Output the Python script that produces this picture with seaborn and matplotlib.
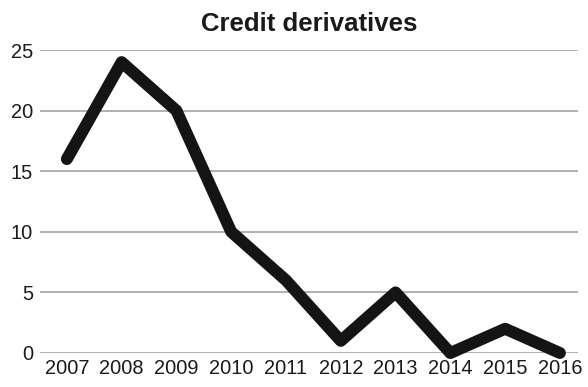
import matplotlib
matplotlib.use("Agg")
import matplotlib.pyplot as plt
import seaborn as sns
import pandas as pd

years = ["2007", "2008", "2009", "2010", "2011", "2012", "2013", "2014", "2015", "2016"]
values = [16, 24, 20, 10, 6, 1, 5, 0, 2, 0]
y_ticks = [0, 5, 10, 15, 20, 25]
title = "Credit derivatives"

sns.set_theme(style="white")
plt.rcParams["font.family"] = ["Liberation Sans", "DejaVu Sans"]

df = pd.DataFrame({"pos": range(len(years)), "value": values})

fig = plt.figure(figsize=(5.88, 3.87), dpi=100)
ax = fig.add_axes([40 / 588, 1 - 353 / 387, 538 / 588, 303 / 387])

for yt in y_ticks:
    ax.axhline(yt, color="#aaaaaa", lw=1.3, zorder=1)

sns.lineplot(data=df, x="pos", y="value", ax=ax, color="#141414", lw=8.6,
             solid_capstyle="round", solid_joinstyle="round", zorder=3, clip_on=False)

ax.set_xlim(-0.49, 9.33)
ax.set_ylim(0, 25)
ax.set_xticks(range(len(years)))
ax.set_xticklabels(years)
ax.set_yticks(y_ticks)
ax.set_yticklabels([str(v) for v in y_ticks])
ax.tick_params(axis="both", length=0, labelsize=14.4, colors="#1a1a1a")
ax.tick_params(axis="x", pad=4)
ax.tick_params(axis="y", pad=5)
ax.set_xlabel("")
ax.set_ylabel("")
for s in ax.spines.values():
    s.set_visible(False)
ax.grid(False)
ax.set_title(title, fontsize=18.5, fontweight="bold", color="#1a1a1a", pad=14)

fig.savefig("out.png", dpi=100)
